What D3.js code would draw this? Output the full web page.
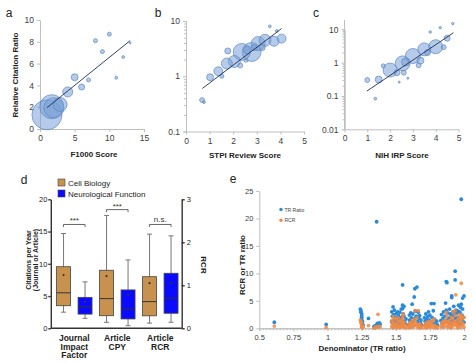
<!DOCTYPE html>
<html><head><meta charset="utf-8">
<script src="https://cdn.jsdelivr.net/npm/d3@7"></script>
<style>body{margin:0;background:#fff}svg{display:block}text{font-family:"Liberation Sans",Arial,sans-serif}</style>
</head><body><svg id="c" width="474" height="363"></svg>
<script>
// ---------- Panel a: F1000 ----------
const aScore = [1, 1.7, 2, 2.9, 4, 5, 6, 7, 8, 9, 10, 11, 12, 13];
const aRatio = [1.3, 2.05, 1.95, 2.25, 3.4, 4.75, 3.85, 4.5, 8.1, 7.1, 8.7, 4.7, 6.6, 7.9];
const aCount = [225, 144, 100, 49, 25, 12, 9, 4, 4, 4, 4, 2, 2, 1];
const aFitX = [1, 13], aFitY = [1.95, 8.11];
const aTicksX = [0, 5, 10, 15], aTicksY = [0, 2, 4, 6, 8, 10];
// ---------- Panel b: STPI ----------
const bScore = [0.68, 0.76, 1.02, 1.37, 1.52, 1.73, 1.77, 2.05, 2.3, 2.36, 2.54, 2.6, 2.78, 2.9, 3.06, 3.23, 3.35, 3.55, 3.73, 3.85, 4.05];
const bRatio = [0.37, 0.34, 0.96, 1.23, 1.0, 1.7, 2.87, 1.85, 1.56, 2.75, 1.95, 3.0, 2.75, 3.3, 3.9, 3.3, 4.47, 8.0, 4.3, 6.6, 4.8];
const bCount = [6, 2, 12, 20, 4, 30, 9, 36, 6, 72, 4, 16, 90, 9, 49, 9, 36, 2, 25, 2, 20];
const bFitX = [0.69, 4.05], bFitY = [0.6, 7.3];
const bTicksX = [0, 1, 2, 3, 4, 5], bTicksY = [0.1, 1, 10];
// ---------- Panel c: NIH IRP ----------
const cScore = [1.0, 1.35, 1.5, 1.7, 2.0, 2.3, 2.4, 2.55, 2.6, 2.68, 2.78, 3.0, 3.25, 3.33, 3.5, 3.64, 3.76, 4.0, 4.2, 4.35, 4.5, 4.75];
const cRatio = [0.30, 0.083, 0.31, 0.8, 0.6, 0.5, 0.26, 0.95, 0.5, 1.04, 0.34, 1.58, 0.83, 1.15, 2.5, 2.0, 8.3, 3.0, 11.2, 2.9, 5.4, 14.8];
const cCount = [6, 2, 12, 4, 49, 9, 1, 56, 6, 16, 1, 56, 6, 12, 42, 9, 1.5, 49, 1.5, 6, 9, 1.5];
const cFitX = [0.98, 4.78], cFitY = [0.14, 7.9];
const cTicksX = [0, 1, 2, 3, 4, 5], cTicksY = [0.01, 0.1, 1, 10];
// ---------- Panel d: box plots ----------
const dGroups = ["Journal Impact Factor", "Article CPY", "Article RCR"];
const dGroupLines = [["Journal", "Impact", "Factor"], ["Article", "CPY"], ["Article", "RCR"]];
const dSeries = ["Cell Biology", "Neurological Function"];
const cellMin = [2.5, 0.93, 0.12], cellQ1 = [3.5, 1.95, 0.29], cellMed = [5.5, 4.6, 0.62], cellQ3 = [9.55, 9.0, 1.2], cellMax = [14.7, 17.5, 2.19], cellMean = [8.25, 8.1, 1.05];
const neuroMin = [1.55, 0.4, 0.14], neuroQ1 = [2.2, 1.45, 0.35], neuroMed = [3.35, 3.0, 0.7], neuroQ3 = [4.8, 5.95, 1.28], neuroMax = [7.2, 10.6, 2.15], neuroMean = [4.1, 5.2, 1.05];
const dAxisOf = ["left", "left", "right"];
const dSig = ["***", "***", "n.s."], dSigLevel = [16.1, 18.4, 16.1];
const dTicksL = [0, 5, 10, 15, 20], dTicksR = [0, 1, 2, 3];
// ---------- Panel e: TR ratio vs RCR ----------
const eDenom = [
 0.61,0.99,1.24,1.245,1.245,1.25,1.25,1.25,1.25,1.255,
 1.255,1.26,1.30,1.34,1.35,1.36,1.365,1.37,1.38,1.385,
 1.47,1.47,1.475,1.48,1.48,1.485,1.49,1.49,1.495,1.50,
 1.50,1.505,1.51,1.51,1.515,1.52,1.52,1.525,1.53,1.53,
 1.535,1.54,1.54,1.545,1.55,1.55,1.55,1.555,1.555,1.56,
 1.56,1.565,1.57,1.575,1.595,1.60,1.60,1.605,1.61,1.61,
 1.615,1.62,1.62,1.625,1.63,1.635,1.64,1.64,1.645,1.65,
 1.655,1.66,1.665,1.67,1.67,1.675,1.68,1.685,1.69,1.71,
 1.715,1.72,1.72,1.725,1.73,1.735,1.74,1.74,1.745,1.75,
 1.755,1.76,1.765,1.77,1.775,1.78,1.785,1.79,1.80,1.805,
 1.83,1.835,1.84,1.845,1.85,1.855,1.86,1.865,1.87,1.87,
 1.875,1.875,1.88,1.885,1.89,1.895,1.90,1.90,1.905,1.91,
 1.91,1.915,1.92,1.92,1.925,1.93,1.935,1.935,1.94,1.94,
 1.945,1.95,1.95,1.955,1.96,1.965,1.97,1.97,1.975,1.98,
 1.98,1.985,1.985,1.99,1.99,1.995,2.0,2.0,1.965,1.955];
const eTR = [
 1.1,0.7,3.5,3.2,2.9,2.6,2.3,2.0,1.6,1.3,
 1.0,0.6,1.8,0.3,0.5,19.4,0.9,0.4,1.0,0.75,
 3.0,1.2,2.2,3.9,0.8,2.5,1.6,3.3,0.9,2.0,
 1.3,2.7,0.6,1.8,3.0,1.1,2.3,0.8,1.5,2.9,
 0.7,2.0,3.5,1.4,7.9,4.2,3.6,2.6,1.0,4.0,
 2.2,1.2,0.8,1.7,0.6,1.5,2.4,0.9,2.8,1.2,
 1.9,4.4,1.0,2.6,1.4,5.7,7.2,1.8,3.1,2.2,
 7.5,1.2,2.9,0.8,1.8,2.3,1.0,1.5,0.6,1.9,
 1.3,2.6,0.8,1.7,1.1,2.1,3.0,0.9,1.5,2.4,
 1.2,4.5,2.0,1.0,3.2,4.5,1.6,0.8,1.3,0.6,
 1.4,2.5,0.9,1.8,3.0,1.2,2.2,4.6,8.5,3.3,
 8.3,1.5,2.8,1.0,1.9,3.5,1.3,2.6,0.8,5.9,
 5.6,2.2,3.0,1.4,4.0,2.5,10.4,8.8,3.3,1.8,
 2.7,1.2,3.2,2.0,4.2,1.5,2.9,0.9,3.8,23.5,
 4.4,2.4,1.6,5.5,3.5,2.0,5.9,1.1,3.0,1.0];
const eRCR = [
 0.4,0.15,1.5,1.2,1.0,0.8,0.6,0.45,0.3,0.15,
 0.1,0.2,0.5,0.05,0.15,0.3,0.2,2.55,0.35,0.25,
 1.4,0.3,0.9,2.1,0.1,1.1,0.6,1.8,0.2,0.7,
 0.4,1.6,0.1,0.8,1.9,0.3,1.2,0.2,0.5,1.3,
 0.15,0.6,1.5,0.4,2.2,1.7,1.0,2.6,0.3,1.1,
 0.8,0.3,0.1,0.5,0.1,0.4,0.9,0.2,1.0,0.3,
 0.6,1.4,0.2,0.9,0.4,1.6,3.2,0.5,1.1,0.7,
 1.9,0.3,3.2,0.1,0.6,0.8,0.2,0.4,0.1,0.5,
 0.3,1.0,0.1,0.6,0.2,0.7,1.2,0.2,0.4,0.9,
 0.3,1.3,0.8,0.2,1.4,1.7,0.5,0.1,0.3,0.1,
 0.4,1.0,0.2,0.6,1.3,0.3,0.9,1.5,2.9,1.2,
 2.2,0.4,1.1,0.2,0.7,1.4,0.3,1.0,0.1,1.8,
 2.0,0.8,3.0,0.4,1.3,0.9,3.2,2.4,6.1,0.6,
 1.0,0.3,1.5,0.7,1.9,0.5,1.2,0.2,1.6,8.2,
 2.3,1.0,0.5,1.8,2.0,0.8,2.0,0.2,2.5,0.1];
const eSeries = ["TR Ratio", "RCR"];
const eTicksX = [0.5, 0.75, 1, 1.25, 1.5, 1.75, 2], eTicksY = [0, 5, 10, 15, 20, 25];

// ================= drawing =================
const FONT = "Liberation Sans, Arial, sans-serif";
const svg = d3.select("#c");
const gray = "#bfbfbf", txt = "#404040";
const rScale = d3.scaleSqrt().domain([0, 225]).range([0, 15]);

function styleAxis(g, color, tc, fs) {
  g.attr("font-family", FONT);
  g.select(".domain").attr("stroke", color);
  g.selectAll(".tick line").attr("stroke", color);
  g.selectAll(".tick text").attr("fill", tc).attr("font-size", fs).attr("font-family", FONT);
}
function label(t, x, y, fs, opts = {}) {
  const e = svg.append("text").attr("x", x).attr("y", y).attr("font-size", fs).attr("font-family", FONT)
    .attr("fill", opts.fill || "#222").attr("text-anchor", opts.anchor || "middle")
    .attr("font-weight", opts.bold ? "bold" : "normal").text(t);
  if (opts.rot) e.attr("transform", `rotate(${opts.rot},${x},${y})`);
  return e;
}
function bubbles(xs, ys, cs, x, y) {
  const idx = d3.range(xs.length).sort((i, j) => cs[j] - cs[i]);
  svg.append("g").selectAll("circle").data(idx).join("circle")
    .attr("cx", i => x(xs[i])).attr("cy", i => y(ys[i])).attr("r", i => rScale(cs[i]))
    .attr("fill", "rgba(120,160,215,0.55)").attr("stroke", "#5f87bf").attr("stroke-width", 0.7);
}
function fitLine(fx, fy, x, y) {
  svg.append("line").attr("x1", x(fx[0])).attr("y1", y(fy[0])).attr("x2", x(fx[1])).attr("y2", y(fy[1]))
    .attr("stroke", "#1f2f4f").attr("stroke-width", 0.9);
}
function logMinor(lo, hi) {
  const v = [];
  for (let p = lo; p < hi; p++) for (let k = 2; k <= 9; k++) v.push(k * Math.pow(10, p));
  return v;
}

// ---- Panel a ----
{
  const x = d3.scaleLinear().domain([0, 15]).range([40, 144]);
  const y = d3.scaleLinear().domain([0, 10]).range([129, 20]);
  const gx = svg.append("g").attr("transform", "translate(0,129)").call(d3.axisBottom(x).tickValues(aTicksX).tickSize(3).tickSizeOuter(0));
  styleAxis(gx, gray, txt, 8.5);
  const gy = svg.append("g").attr("transform", "translate(40,0)").call(d3.axisLeft(y).tickValues(aTicksY).tickSize(3).tickSizeOuter(0));
  styleAxis(gy, gray, txt, 8.5);
  bubbles(aScore, aRatio, aCount, x, y);
  fitLine(aFitX, aFitY, x, y);
  label("F1000 Score", 94, 157, 8, { bold: true });
  label("Relative Citation Ratio", 18, 75, 8, { bold: true, rot: -90 });
  label("a", 9, 17, 12);
}
// ---- Panel b ----
{
  const x = d3.scaleLinear().domain([0, 5]).range([186, 304]);
  const y = d3.scaleLog().domain([0.1, 10]).range([131.5, 21]);
  const gx = svg.append("g").attr("transform", "translate(0,131.5)").call(d3.axisBottom(x).tickValues(bTicksX).tickFormat(d3.format("d")).tickSize(3).tickSizeOuter(0));
  styleAxis(gx, gray, txt, 8.5);
  const gm = svg.append("g").attr("transform", "translate(186,0)").call(d3.axisLeft(y).tickValues(logMinor(-1, 1)).tickFormat("").tickSize(2));
  styleAxis(gm, gray, txt, 8.5);
  const gy = svg.append("g").attr("transform", "translate(186,0)").call(d3.axisLeft(y).tickValues(bTicksY).tickFormat(d => String(d)).tickSize(3).tickSizeOuter(0));
  styleAxis(gy, gray, txt, 8.5);
  bubbles(bScore, bRatio, bCount, x, y);
  fitLine(bFitX, bFitY, x, y);
  label("STPI Review Score", 245, 158, 8, { bold: true });
  label("b", 158, 17, 12);
}
// ---- Panel c ----
{
  const x = d3.scaleLinear().domain([0, 5]).range([344.5, 458.5]);
  const y = d3.scaleLog().domain([0.01, 10]).range([129.3, 29.3]);
  const gx = svg.append("g").attr("transform", "translate(0,129.3)").call(d3.axisBottom(x).tickValues(cTicksX).tickFormat(d3.format("d")).tickSize(3).tickSizeOuter(0));
  styleAxis(gx, gray, txt, 8.5);
  svg.append("line").attr("x1", 344.5).attr("x2", 344.5).attr("y1", 20).attr("y2", 129.3).attr("stroke", gray);
  const gm = svg.append("g").attr("transform", "translate(344.5,0)").call(d3.axisLeft(y).tickValues(logMinor(-2, 1)).tickFormat("").tickSize(2));
  styleAxis(gm, gray, txt, 8.5);
  const gy = svg.append("g").attr("transform", "translate(344.5,0)").call(d3.axisLeft(y).tickValues(cTicksY).tickFormat(d => String(d)).tickSize(3).tickSizeOuter(0));
  styleAxis(gy, gray, txt, 8.5);
  bubbles(cScore, cRatio, cCount, x, y);
  fitLine(cFitX, cFitY, x, y);
  label("NIH IRP Score", 402, 158, 8, { bold: true });
  label("c", 316, 17, 12);
}
// ---- Panel d ----
{
  const yL = d3.scaleLinear().domain([0, 20]).range([328.3, 199.3]);
  const yR = d3.scaleLinear().domain([0, 3]).range([328.3, 199.3]);
  const gx = d3.scaleBand().domain(dGroups).range([52.8, 181.8]);
  const sx = d3.scaleBand().domain(dSeries).range([0, gx.bandwidth()]).paddingInner(0.35).paddingOuter(0.175);
  const ax = "#333";
  const AX0 = 50.8;
  const gl = svg.append("g").attr("transform", `translate(${AX0},0)`).call(d3.axisLeft(yL).tickValues(dTicksL).tickSize(2.5).tickPadding(1).tickSizeOuter(0));
  styleAxis(gl, ax, "#222", 7.5); gl.select(".domain").attr("stroke-width", 1.4); gl.selectAll(".tick line").attr("stroke-width", 1.4);
  const gr = svg.append("g").attr("transform", "translate(181.7,0)").call(d3.axisRight(yR).tickValues(dTicksR).tickFormat(d3.format("d")).tickSize(3).tickPadding(2).tickSizeOuter(0));
  styleAxis(gr, ax, "#222", 7.5); gr.select(".domain").attr("stroke-width", 1.4); gr.selectAll(".tick line").attr("stroke-width", 1.4);
  svg.append("line").attr("x1", AX0).attr("x2", 181.7).attr("y1", 328.3).attr("y2", 328.3).attr("stroke", ax).attr("stroke-width", 1.4);
  const stats = [
    { s: dSeries[0], mn: cellMin, q1: cellQ1, md: cellMed, q3: cellQ3, mx: cellMax, me: cellMean, fill: "#c8924e" },
    { s: dSeries[1], mn: neuroMin, q1: neuroQ1, md: neuroMed, q3: neuroQ3, mx: neuroMax, me: neuroMean, fill: "#0a0aff" }
  ];
  dGroups.forEach((g, gi) => {
    const y = dAxisOf[gi] === "left" ? yL : yR;
    stats.forEach(st => {
      const x0 = gx(g) + sx(st.s), w = sx.bandwidth(), cx = x0 + w / 2;
      const G = svg.append("g");
      G.append("line").attr("x1", cx).attr("x2", cx).attr("y1", y(st.mx[gi])).attr("y2", y(st.mn[gi])).attr("stroke", "#777").attr("stroke-width", 1);
      [st.mx[gi], st.mn[gi]].forEach(v => G.append("line").attr("x1", cx - 2.5).attr("x2", cx + 2.5).attr("y1", y(v)).attr("y2", y(v)).attr("stroke", "#777"));
      G.append("rect").attr("x", x0).attr("width", w).attr("y", y(st.q3[gi])).attr("height", y(st.q1[gi]) - y(st.q3[gi]))
        .attr("fill", st.fill).attr("stroke", "#444").attr("stroke-width", 0.8);
      G.append("line").attr("x1", x0).attr("x2", x0 + w).attr("y1", y(st.md[gi])).attr("y2", y(st.md[gi])).attr("stroke", "#333").attr("stroke-width", 1);
      G.append("circle").attr("cx", cx).attr("cy", y(st.me[gi])).attr("r", 1.1).attr("fill", "#333");
    });
    const xa = gx(g) + sx(dSeries[0]) + sx.bandwidth() / 2, xb = gx(g) + sx(dSeries[1]) + sx.bandwidth() / 2;
    const yb = yL(dSigLevel[gi]);
    svg.append("path").attr("d", `M${xa},${yb + 2.5}V${yb}H${xb}V${yb + 2.5}`).attr("fill", "none").attr("stroke", "#555").attr("stroke-width", 0.9);
    label(dSig[gi], (xa + xb) / 2, yb - (dSig[gi] === "n.s." ? 2 : 1), 8, { fill: "#333" });
    dGroupLines[gi].forEach((t, li) => label(t, gx(g) + gx.bandwidth() / 2, 341 + li * 8.6, 8.5, { bold: true }));
  });
  stats.forEach((st, i) => {
    svg.append("rect").attr("x", 58).attr("y", 179 + i * 11).attr("width", 7).attr("height", 7).attr("fill", st.fill).attr("stroke", "#444").attr("stroke-width", 0.6);
    label(st.s, 68, 186 + i * 11, 8, { anchor: "start" });
  });
  label("Citations per Year", 30.5, 260, 7, { bold: true, rot: -90 });
  label("(Journal or Article)", 38, 260, 7, { bold: true, rot: -90 });
  label("RCR", 201, 265, 8, { bold: true, rot: 90 });
  label("d", 24, 184, 12);
}
// ---- Panel e ----
{
  const x = d3.scaleLinear().domain([0.5, 2]).range([259.3, 464]);
  const y = d3.scaleLinear().domain([0, 25]).range([328.3, 191]);
  const minor = d3.range(0, 61).map(i => 0.5 + i * 0.025);
  const gm = svg.append("g").attr("transform", "translate(0,328.3)").call(d3.axisBottom(x).tickValues(minor).tickFormat("").tickSize(2));
  styleAxis(gm, gray, txt, 7);
  const gx = svg.append("g").attr("transform", "translate(0,328.3)").call(d3.axisBottom(x).tickValues(eTicksX).tickFormat(d => String(d)).tickSize(3).tickSizeOuter(0));
  styleAxis(gx, gray, txt, 7.5);
  const gy = svg.append("g").attr("transform", "translate(259.3,0)").call(d3.axisLeft(y).tickValues(eTicksY).tickSize(3).tickSizeOuter(0));
  styleAxis(gy, gray, txt, 7.5);
  const colors = { "TR Ratio": "#2a8ad8", "RCR": "#f08a44" };
  svg.append("g").selectAll("circle").data(d3.range(eDenom.length)).join("circle")
    .attr("cx", i => x(eDenom[i])).attr("cy", i => y(eTR[i])).attr("r", 1.9).attr("fill", colors["TR Ratio"]);
  svg.append("g").selectAll("circle").data(d3.range(eDenom.length)).join("circle")
    .attr("cx", i => x(eDenom[i])).attr("cy", i => y(eRCR[i])).attr("r", 1.9).attr("fill", colors["RCR"]).attr("fill-opacity", 0.85);
  eSeries.forEach((s, i) => {
    svg.append("circle").attr("cx", 281).attr("cy", 209.5 + i * 10.8).attr("r", 1.7).attr("fill", colors[s]);
    label(s, 284.5, 211.5 + i * 10.8, 5, { anchor: "start", fill: "#444" });
  });
  label("Denominator (TR ratio)", 362, 350.5, 8, { bold: true });
  label("RCR or TR ratio", 245, 265, 8, { bold: true, rot: -90 });
  label("e", 233, 183, 12);
}
</script></body></html>
